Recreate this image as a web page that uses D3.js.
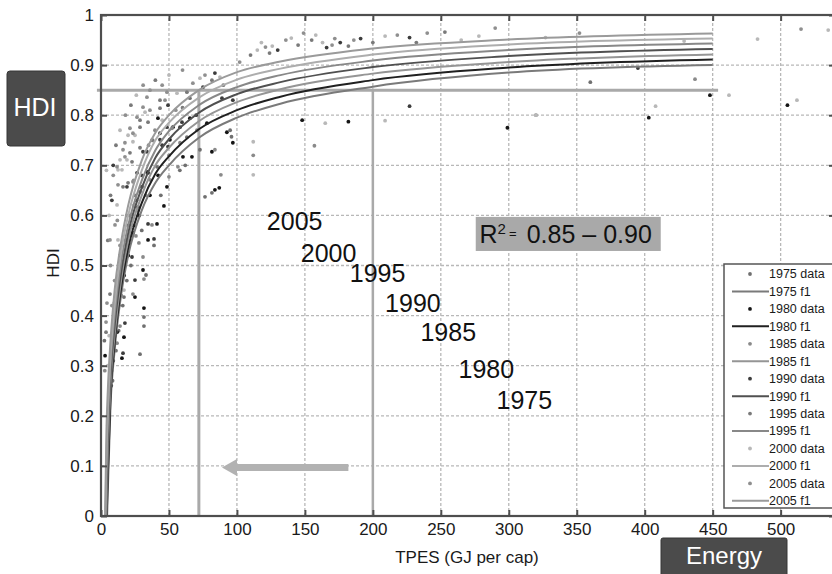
<!DOCTYPE html>
<html>
<head>
<meta charset="utf-8">
<script src="https://cdn.jsdelivr.net/npm/d3@7"></script>
<style>
  body { margin: 0; background: #fff; }
  svg { display: block; font-family: "Liberation Sans", Arial, Helvetica, sans-serif; }
</style>
</head>
<body>
<svg id="chart" width="832" height="574"></svg>
<script>
// HDI vs TPES scatter with fitted curves, 1975-2005

const years = [1975, 1980, 1985, 1990, 1995, 2000, 2005];
const xTicks = [0, 50, 100, 150, 200, 250, 300, 350, 400, 450, 500];
const yTicks = [0, 0.1, 0.2, 0.3, 0.4, 0.5, 0.6, 0.7, 0.8, 0.9, 1];

// fitted curves [TPES, HDI]
const fit1975 = [[4.5,0],[5,0.05],[7,0.22],[10,0.33],[15,0.445],[20,0.52],[30,0.61],[40,0.665],[50,0.70],[72,0.755],[100,0.795],[132,0.823],[200,0.857],[300,0.885],[450,0.90]];
const fit1980 = [[4.2,0],[5,0.08],[7,0.24],[10,0.345],[15,0.46],[20,0.535],[30,0.625],[40,0.683],[50,0.718],[72,0.772],[100,0.81],[132,0.837],[200,0.87],[300,0.895],[450,0.911]];
const fit1985 = [[3.9,0],[5,0.12],[7,0.26],[10,0.36],[15,0.475],[20,0.55],[30,0.64],[40,0.70],[50,0.735],[72,0.788],[100,0.826],[132,0.852],[200,0.883],[300,0.906],[450,0.921]];
const fit1990 = [[3.6,0],[4,0.04],[5,0.15],[7,0.28],[10,0.38],[15,0.49],[20,0.565],[30,0.655],[40,0.715],[50,0.752],[72,0.805],[100,0.842],[132,0.866],[200,0.896],[300,0.918],[450,0.932]];
const fit1995 = [[3.4,0],[4,0.08],[5,0.18],[7,0.30],[10,0.40],[15,0.51],[20,0.58],[30,0.67],[40,0.73],[50,0.768],[72,0.82],[100,0.856],[132,0.88],[200,0.909],[300,0.93],[450,0.943]];
const fit2000 = [[3.2,0],[4,0.12],[5,0.21],[7,0.32],[10,0.42],[15,0.53],[20,0.60],[30,0.69],[40,0.75],[50,0.785],[72,0.835],[100,0.871],[132,0.893],[200,0.921],[300,0.941],[450,0.953]];
const fit2005 = [[3.0,0],[4,0.17],[5,0.25],[7,0.35],[10,0.45],[15,0.55],[20,0.62],[30,0.71],[40,0.765],[50,0.80],[72,0.85],[100,0.886],[132,0.907],[200,0.933],[300,0.951],[450,0.963]];

// country data points [TPES, HDI]
const data1975 = [[39,0.54],[33.1,0.481],[31.6,0.397],[31.6,0.379],[28.7,0.323],[16.9,0.437],[76.5,0.637],[81.6,0.645],[58,0.69],[65.4,0.834],[96,0.757],[360,0.866],[8.5,0.27],[11,0.33],[16,0.42],[22,0.5],[30,0.57],[44,0.64],[62,0.7],[95,0.77],
  [28.7,0.647],[41.2,0.697],[63.2,0.756],[72.8,0.731],[2.5,0.35],[6,0.22],[5,0.18],[13,0.37],[19,0.47]];
const data1980 = [[46.3,0.619],[41.2,0.583],[34.6,0.551],[23.5,0.565],[30.9,0.491],[25,0.437],[31.6,0.415],[16.9,0.357],[15.4,0.315],[11.8,0.367],[33.8,0.687],[50.7,0.751],[41.9,0.794],[48.5,0.657],[65.4,0.794],[83.8,0.651],[87,0.655],[81.6,0.727],[92.6,0.766],[97,0.745],[60.3,0.717],[148,0.79],[182,0.787],[299,0.775],[403,0.795],[448,0.84],[505,0.82],[9,0.31],[13,0.42],[20,0.52],[28,0.6],[42,0.68],
  [34.6,0.685],[52.9,0.776],[66.9,0.717],[77.9,0.784],[3,0.32],[7.5,0.26],[17,0.48],[24,0.58],[36,0.64]];
const data1985 = [[37.5,0.581],[27.9,0.545],[25.7,0.559],[30.9,0.517],[31.6,0.473],[23.5,0.443],[14,0.379],[11.8,0.345],[36,0.671],[52.2,0.774],[39.7,0.77],[50,0.677],[56.6,0.697],[83.8,0.731],[88.2,0.681],[112,0.72],[157,0.739],[320,0.8],[437,0.872],[8,0.29],[12,0.4],[17,0.5],[22,0.56],[33,0.64],[50,0.72],
  [23.5,0.667],[37.5,0.75],[58.1,0.745],[70.6,0.77],[2.8,0.29],[10,0.36],[15,0.44],[27,0.61]];
const data1990 = [[49.3,0.82],[33.8,0.727],[26.5,0.685],[83.8,0.884],[75,0.856],[176,0.945],[191,0.953],[227,0.955],[27.2,0.617],[34.6,0.583],[39,0.553],[22.8,0.517],[25,0.471],[17.6,0.385],[16.2,0.325],[30.1,0.657],[48.5,0.776],[43.4,0.751],[58.1,0.776],[89,0.834],[97,0.83],[227,0.818],[395,0.894],[7,0.3],[10,0.4],[15,0.5],[20,0.58],[30,0.68],[45,0.74],[70,0.8],
  [19.1,0.657],[30.9,0.727],[43.4,0.764],[49.3,0.737],[59.6,0.786],[9,0.7],[8,0.63],[130,0.93],[166,0.935],[12,0.43],[18,0.53],[26,0.63]];
const data1995 = [[43.4,0.814],[34.6,0.786],[28.7,0.776],[28.7,0.735],[21.3,0.725],[16.2,0.657],[19.9,0.665],[81.6,0.87],[63.2,0.846],[124,0.924],[155,0.95],[182,0.938],[253,0.966],[3.7,0.367],[8.8,0.339],[11.8,0.401],[6.6,0.443],[9,0.36],[13,0.46],[18,0.55],[25,0.64],[38,0.75],[60,0.815],[90,0.86],
  [22.8,0.707],[28.7,0.79],[43.4,0.83],[7,0.64],[5,0.55],[11,0.74],[22,0.82],[40,0.87],[110,0.92],[145,0.94],[200,0.945],[232,0.945],[14,0.52],[21,0.6]];
const data2000 = [[55.9,0.844],[32.4,0.806],[25,0.76],[19.9,0.76],[23.5,0.747],[15.4,0.691],[19.1,0.711],[72.8,0.874],[87.5,0.876],[115,0.93],[126,0.938],[140,0.954],[163,0.945],[209,0.958],[278,0.958],[327,0.955],[429,0.948],[483,0.952],[535,0.97],[112,0.747],[112,0.681],[165,0.784],[209,0.789],[320,0.8],[462,0.84],[512,0.83],[408,0.818],[11.8,0.621],[12.5,0.551],[9.6,0.425],[6,0.36],[5,0.3],[16.9,0.451],[24,0.62],[45,0.79],
  [12.5,0.691],[14,0.711],[6,0.6],[14,0.77],[26,0.84],[50,0.88],[118,0.945],[158,0.96],[265,0.95],[4,0.69]];
const data2005 = [[36,0.85],[47.1,0.83],[30.9,0.816],[26.5,0.796],[21.3,0.774],[17.6,0.745],[16.2,0.731],[11.8,0.697],[12.5,0.661],[67.6,0.864],[76.5,0.88],[102,0.906],[121,0.936],[149,0.964],[172,0.953],[240,0.964],[290,0.974],[352,0.964],[515,0.972],[10.3,0.581],[6.6,0.551],[4.4,0.425],[3.7,0.387],[8,0.42],[10,0.47],[14,0.54],[19,0.6],[24,0.67],[35,0.74],[55,0.81],
  [17.6,0.717],[23.5,0.764],[36,0.81],[33.8,0.836],[48.5,0.846],[9,0.68],[18,0.8],[31,0.86],[45,0.86],[60,0.89],[136,0.95],[170,0.94],[186,0.95],[218,0.96],[7,0.5],[12,0.59]];

const fits = [fit1975, fit1980, fit1985, fit1990, fit1995, fit2000, fit2005];
const points = [data1975, data1980, data1985, data1990, data1995, data2000, data2005];

// annotations (data units)
const targetHdi = 0.85;
const markerEnergy = [72, 200];
const arrowFrom = 182, arrowTo = 89, arrowHdi = 0.097;
const rSquared = '0.85 \u2013 0.90';

// styling
const dotColor = ['#707070', '#151515', '#8a8a8a', '#3c3c3c', '#7a7a7a', '#b8b8b8', '#8f8f8f'];
const lineColor = ['#7a7a7a', '#202020', '#959595', '#505050', '#888888', '#adadad', '#9a9a9a'];
const labelPos = [[291, 0.214], [263, 0.275], [235, 0.349], [209, 0.407], [183, 0.467], [147, 0.507], [122, 0.571]];
const font = '"Liberation Sans", Arial, Helvetica, sans-serif';

const svg = d3.select('#chart');
const margin = { top: 15, left: 101, bottom: 516, right: 835 };

const x = d3.scaleLinear().domain([0, 540]).range([margin.left, margin.right]);
const y = d3.scaleLinear().domain([0, 1]).range([margin.bottom, margin.top]);

// grid
const grid = svg.append('g').attr('class', 'grid');
grid.selectAll('.vgrid')
  .data(xTicks.filter(d => d > 0))
  .enter().append('line')
  .attr('x1', d => x(d)).attr('x2', d => x(d))
  .attr('y1', y(0)).attr('y2', y(1))
  .style('stroke', '#b8b8b8').style('stroke-width', 1.3).style('stroke-dasharray', '3,2');
grid.selectAll('.hgrid')
  .data(yTicks.filter(d => d > 0 && d < 1))
  .enter().append('line')
  .attr('x1', x(0)).attr('x2', x(540))
  .attr('y1', d => y(d)).attr('y2', d => y(d))
  .style('stroke', '#b8b8b8').style('stroke-width', 1.3).style('stroke-dasharray', '3,2');

// highlight lines
svg.append('line')
  .attr('x1', x(-3)).attr('x2', x(454))
  .attr('y1', y(targetHdi)).attr('y2', y(targetHdi))
  .style('stroke', '#a9a9a9').style('stroke-width', 3);
svg.selectAll('.vmark')
  .data(markerEnergy)
  .enter().append('line')
  .attr('x1', d => x(d)).attr('x2', d => x(d))
  .attr('y1', y(targetHdi)).attr('y2', y(0))
  .style('stroke', '#a9a9a9').style('stroke-width', (d, i) => i === 0 ? 3 : 2.5);

// scatter
const dots = svg.append('g').attr('class', 'dots');
points.forEach((pts, i) => {
  dots.selectAll(`.dot${i}`)
    .data(pts)
    .enter().append('circle')
    .attr('cx', d => x(d[0]))
    .attr('cy', d => y(d[1]))
    .attr('r', 1.9)
    .style('fill', dotColor[i]);
});

// fitted curves
const line = d3.line()
  .x(d => x(d[0]))
  .y(d => y(d[1]))
  .curve(d3.curveMonotoneX);

svg.append('g').selectAll('path')
  .data(fits)
  .enter().append('path')
  .attr('d', d => line(d))
  .style('fill', 'none')
  .style('stroke', (d, i) => lineColor[i])
  .style('stroke-width', 2);

// arrow
const ay = y(arrowHdi);
svg.append('line')
  .attr('x1', x(arrowFrom)).attr('x2', x(arrowTo) + 14)
  .attr('y1', ay).attr('y2', ay)
  .style('stroke', '#b2b2b2').style('stroke-width', 7);
svg.append('path')
  .attr('d', `M${x(arrowTo)},${ay} L${x(arrowTo) + 15},${ay - 8.5} L${x(arrowTo) + 15},${ay + 8.5} Z`)
  .style('fill', '#b2b2b2');

// axes box
svg.append('rect')
  .attr('x', margin.left).attr('y', margin.top)
  .attr('width', margin.right - margin.left)
  .attr('height', margin.bottom - margin.top)
  .style('fill', 'none').style('stroke', '#4e4e4e').style('stroke-width', 2.2);

function styleAxis(g) {
  g.select('.domain').remove();
  g.selectAll('.tick line').style('stroke', '#4e4e4e').style('stroke-width', 2);
  g.selectAll('text').style('font-size', '17px').style('fill', '#1a1a1a')
    .style('font-family', font);
}

svg.append('g')
  .attr('transform', `translate(0,${margin.bottom})`)
  .call(d3.axisBottom(x).tickValues(xTicks).tickSize(-6).tickPadding(7).tickFormat(d3.format('d')))
  .call(styleAxis);
svg.append('g')
  .attr('transform', `translate(0,${margin.top})`)
  .call(d3.axisTop(x).tickValues(xTicks).tickSize(-6).tickFormat(''))
  .call(styleAxis);
svg.append('g')
  .attr('transform', `translate(${margin.left},0)`)
  .call(d3.axisLeft(y).tickValues(yTicks).tickSize(-6).tickPadding(7).tickFormat(d => d === 0 || d === 1 ? d : d.toFixed(1)))
  .call(styleAxis);
svg.append('g')
  .attr('transform', `translate(${margin.right},0)`)
  .call(d3.axisRight(y).tickValues(yTicks).tickSize(-6).tickFormat(''))
  .call(styleAxis);

// axis labels
svg.append('text')
  .attr('x', 467).attr('y', 563)
  .attr('text-anchor', 'middle')
  .style('font-size', '17px').style('fill', '#1a1a1a')
  .text('TPES (GJ per cap)');
svg.append('text')
  .attr('transform', 'translate(59,263) rotate(-90)')
  .attr('text-anchor', 'middle')
  .style('font-size', '17px').style('fill', '#1a1a1a')
  .text('HDI');

// year labels
svg.selectAll('.year-label')
  .data(years)
  .enter().append('text')
  .attr('x', (d, i) => x(labelPos[i][0]))
  .attr('y', (d, i) => y(labelPos[i][1]))
  .style('font-size', '25px').style('fill', '#111')
  .text(d => d);

// R squared box
svg.append('rect')
  .attr('x', x(275.7)).attr('y', y(0.597))
  .attr('width', x(411.8) - x(275.7)).attr('height', y(0.529) - y(0.597))
  .style('fill', '#a9a9a9');
const r2 = svg.append('text')
  .attr('x', x(278.5)).attr('y', y(0.545))
  .style('font-size', '25px').style('fill', '#111');
r2.append('tspan').text('R');
r2.append('tspan').attr('dy', -9).style('font-size', '15px').text('2');
r2.append('tspan').attr('dx', 3).attr('dy', 4).style('font-size', '13px').text('=');
r2.append('tspan').attr('x', x(313.2)).attr('dy', 5).text(rSquared);

// callout boxes
svg.append('rect')
  .attr('x', 7).attr('y', 71).attr('width', 58).attr('height', 75).attr('rx', 3)
  .style('fill', '#4b4b4b').style('stroke', '#363636');
svg.append('text')
  .attr('x', 35).attr('y', 116).attr('text-anchor', 'middle')
  .style('font-size', '25px').style('fill', '#fff')
  .text('HDI');
svg.append('rect')
  .attr('x', 661).attr('y', 538).attr('width', 126).attr('height', 45).attr('rx', 2)
  .style('fill', '#4b4b4b').style('stroke', '#363636');
svg.append('text')
  .attr('x', 724).attr('y', 564).attr('text-anchor', 'middle')
  .style('font-size', '24px').style('fill', '#fff')
  .text('Energy');

// legend
const legend = svg.append('g').attr('transform', 'translate(724,264)');
legend.append('rect')
  .attr('width', 130).attr('height', 244)
  .style('fill', '#fff').style('stroke', '#555').style('stroke-width', 1.5);

const legendRows = [];
years.forEach((yr, i) => {
  legendRows.push({ label: `${yr} data`, type: 'dot', i });
  legendRows.push({ label: `${yr} f1`, type: 'line', i });
});

const rows = legend.selectAll('.legend-item')
  .data(legendRows)
  .enter().append('g')
  .attr('transform', (d, k) => `translate(0,${10 + k * 17.45})`);

rows.filter(d => d.type === 'dot').append('circle')
  .attr('cx', 26).attr('cy', 0).attr('r', 1.9)
  .style('fill', d => dotColor[d.i]);
rows.filter(d => d.type === 'line').append('line')
  .attr('x1', 8).attr('x2', 45).attr('y1', 0).attr('y2', 0)
  .style('stroke', d => lineColor[d.i]).style('stroke-width', 2);
rows.append('text')
  .attr('x', 45).attr('y', 0).attr('dy', '0.35em')
  .style('font-size', '12.5px').style('fill', '#1a1a1a')
  .text(d => d.label);
</script>
</body>
</html>
